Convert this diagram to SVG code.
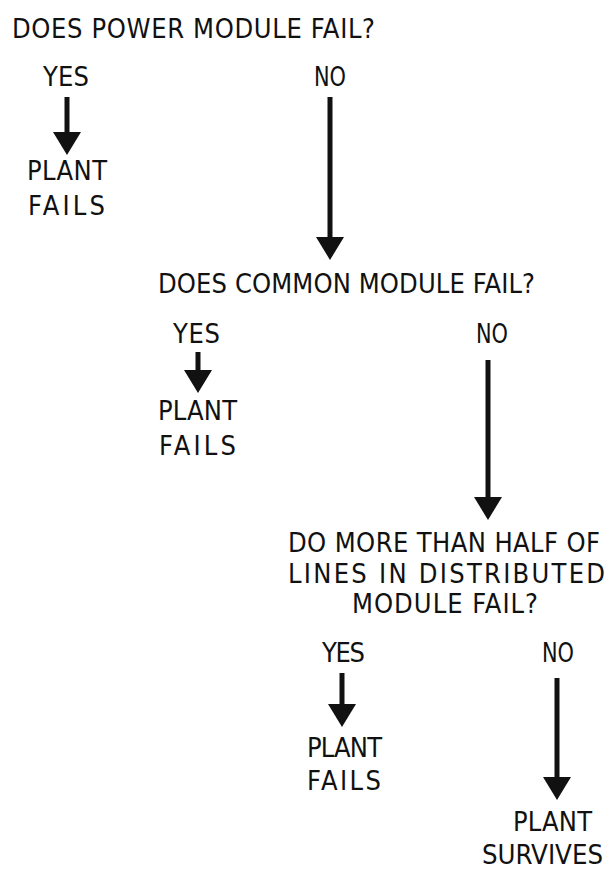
<svg xmlns="http://www.w3.org/2000/svg" width="613" height="871" viewBox="0 0 613 871">
<defs>
<style>
text{font-family:"DejaVu Sans Condensed","DejaVu Sans",sans-serif;font-size:27px;fill:#111;}
.c line{stroke:#111;stroke-width:5;}
</style>
<marker id="ah" markerUnits="userSpaceOnUse" viewBox="0 0 23 28" markerWidth="23" markerHeight="28" refX="0" refY="14" orient="auto">
<path d="M0,0 L23,14 L0,28 z" fill="#111"/>
</marker>
</defs>
<rect width="613" height="871" fill="#fff"/>
<g id="q1"><text x="12" y="38" textLength="363" lengthAdjust="spacing">DOES POWER MODULE FAIL?</text></g>
<g id="yes1"><text x="43" y="86" textLength="46" lengthAdjust="spacing">YES</text></g>
<g id="no1"><text x="314" y="86" textLength="32" lengthAdjust="spacingAndGlyphs">NO</text></g>
<g id="fail1"><text x="27" y="180" textLength="80" lengthAdjust="spacing">PLANT</text><text x="28" y="215" textLength="77" lengthAdjust="spacing">FAILS</text></g>
<g id="q2"><text x="158" y="293" textLength="377" lengthAdjust="spacing">DOES COMMON MODULE FAIL?</text></g>
<g id="yes2"><text x="173" y="343" textLength="47" lengthAdjust="spacing">YES</text></g>
<g id="no2"><text x="476" y="343" textLength="32" lengthAdjust="spacingAndGlyphs">NO</text></g>
<g id="fail2"><text x="158" y="420" textLength="79" lengthAdjust="spacing">PLANT</text><text x="159" y="455" textLength="77" lengthAdjust="spacing">FAILS</text></g>
<g id="q3"><text x="288" y="552" textLength="312" lengthAdjust="spacing">DO MORE THAN HALF OF</text><text x="288" y="583" textLength="317" lengthAdjust="spacing">LINES IN DISTRIBUTED</text><text x="352" y="613" textLength="186" lengthAdjust="spacing">MODULE FAIL?</text></g>
<g id="yes3"><text x="322" y="662" textLength="43" lengthAdjust="spacing">YES</text></g>
<g id="no3"><text x="542" y="662" textLength="32" lengthAdjust="spacingAndGlyphs">NO</text></g>
<g id="fail3"><text x="307" y="757" textLength="75" lengthAdjust="spacing">PLANT</text><text x="307" y="790" textLength="74" lengthAdjust="spacing">FAILS</text></g>
<g id="survive"><text x="513" y="831" textLength="79" lengthAdjust="spacing">PLANT</text><text x="482" y="864" textLength="121" lengthAdjust="spacingAndGlyphs">SURVIVES</text></g>
<g id="connectors" class="c">
<line x1="67" y1="97" x2="67" y2="132" marker-end="url(#ah)"/>
<line x1="330" y1="97" x2="330" y2="237" marker-end="url(#ah)"/>
<line x1="198" y1="352" x2="198" y2="370" marker-end="url(#ah)"/>
<line x1="488" y1="360" x2="488" y2="497" marker-end="url(#ah)"/>
<line x1="342" y1="673" x2="342" y2="704" marker-end="url(#ah)"/>
<line x1="557" y1="678" x2="557" y2="777" marker-end="url(#ah)"/>
</g>
</svg>
